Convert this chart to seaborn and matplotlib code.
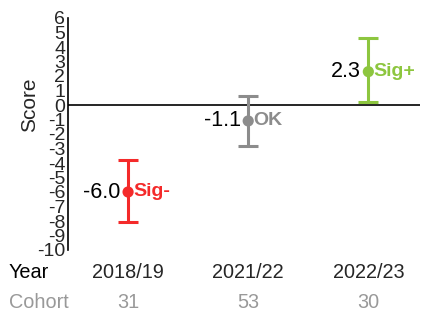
import matplotlib
matplotlib.use("Agg")
import matplotlib.pyplot as plt
import matplotlib.transforms as mtransforms
import seaborn as sns
import pandas as pd

# DATA
years = ["2018/19", "2021/22", "2022/23"]
scores = [-6.0, -1.1, 2.3]
lower = [-8.1, -2.8, 0.2]
upper = [-3.8, 0.6, 4.6]
status = ["Sig-", "OK", "Sig+"]
cohorts = [31, 53, 30]
colors = ["#f42a2a", "#8c8c8c", "#8dc63f"]

df = pd.DataFrame({"Year": years, "Score": scores, "Status": status})

sns.set_style("white")
plt.rcParams["font.family"] = ["Liberation Sans", "DejaVu Sans"]

fig = plt.figure(figsize=(4.24, 3.12), dpi=100)
ax = fig.add_axes([68 / 424, 1 - 250 / 312, (420 - 68) / 424, (250 - 18) / 312])

# zero line
ax.axhline(0, color="black", lw=1.2, zorder=1)

# error bars
for i in range(len(years)):
    ax.errorbar(i, scores[i], yerr=[[scores[i] - lower[i]], [upper[i] - scores[i]]],
                fmt="none", ecolor=colors[i], elinewidth=2.2, capsize=7.5, capthick=2.2, zorder=2)

sns.scatterplot(data=df, x="Year", y="Score", hue="Status", palette=dict(zip(status, colors)),
                s=65, edgecolor="none", legend=False, ax=ax, zorder=3)

# labels next to points
for i in range(len(years)):
    ax.annotate(f"{scores[i]:.1f}", (i, scores[i]), xytext=(-5.5, 0), textcoords="offset points",
                ha="right", va="center", fontsize=15.5, color="black")
    ax.annotate(status[i], (i, scores[i]), xytext=(3.5, 0), textcoords="offset points",
                ha="left", va="center", fontsize=14, color=colors[i], fontweight="bold")

ax.set_xlim(-0.5, 2.43)
ax.set_ylim(-10, 6)
ax.set_yticks(range(-10, 7))
ax.set_yticklabels([str(v) for v in range(-10, 7)], fontsize=14)
ax.tick_params(axis="y", length=0, pad=2)
ax.set_xticks([])
ax.set_xlabel("")
ax.set_ylabel("Score", fontsize=15)
ax.yaxis.set_label_coords(-0.082, 10 / 16)
for side in ["top", "right", "bottom"]:
    ax.spines[side].set_visible(False)
ax.spines["left"].set_color("black")
ax.spines["left"].set_linewidth(1.2)

# Year and Cohort rows
trans = mtransforms.blended_transform_factory(ax.transData, fig.transFigure)
fig.text(9 / 424, 1 - 273 / 312, "Year", ha="left", va="center", fontsize=14.3, color="black")
fig.text(9 / 424, 1 - 303 / 312, "Cohort", ha="left", va="center", fontsize=14.3, color="#999999")
for i in range(len(years)):
    ax.text(i, 1 - 273 / 312, years[i], transform=trans, ha="center", va="center", fontsize=14.3)
    ax.text(i, 1 - 303 / 312, str(cohorts[i]), transform=trans, ha="center", va="center",
            fontsize=14.3, color="#999999")

fig.savefig("out.png", dpi=100)
